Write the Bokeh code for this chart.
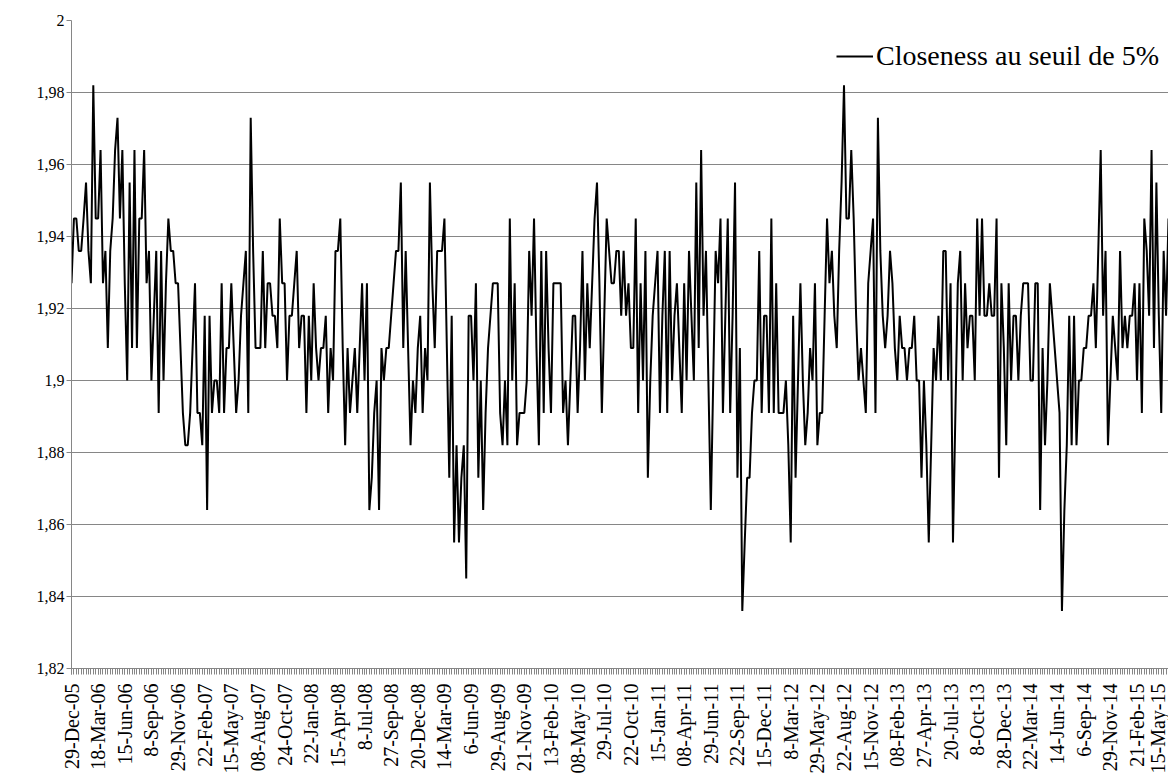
import math
from bokeh.plotting import figure
from bokeh.models import Range1d, FixedTicker, Legend, LegendItem, ColumnDataSource
from bokeh.embed import file_html
from bokeh.resources import INLINE

closeness = [
    1.927, 1.945, 1.945, 1.936, 1.936, 1.945, 1.955, 1.936, 1.927, 1.982,
    1.945, 1.945, 1.964, 1.927, 1.936, 1.909, 1.936, 1.945, 1.964, 1.973,
    1.945, 1.964, 1.927, 1.900, 1.955, 1.909, 1.964, 1.909, 1.945, 1.945,
    1.964, 1.927, 1.936, 1.900, 1.918, 1.936, 1.891, 1.936, 1.900, 1.927,
    1.945, 1.936, 1.936, 1.927, 1.927, 1.909, 1.891, 1.882, 1.882, 1.891,
    1.909, 1.927, 1.891, 1.891, 1.882, 1.918, 1.864, 1.918, 1.891, 1.900,
    1.900, 1.891, 1.927, 1.891, 1.909, 1.909, 1.927, 1.909, 1.891, 1.900,
    1.918, 1.927, 1.936, 1.891, 1.973, 1.936, 1.909, 1.909, 1.909, 1.936,
    1.909, 1.927, 1.927, 1.918, 1.918, 1.909, 1.945, 1.927, 1.927, 1.900,
    1.918, 1.918, 1.927, 1.936, 1.909, 1.918, 1.918, 1.891, 1.918, 1.900,
    1.927, 1.909, 1.900, 1.909, 1.909, 1.918, 1.891, 1.909, 1.900, 1.936,
    1.936, 1.945, 1.909, 1.882, 1.909, 1.891, 1.900, 1.909, 1.891, 1.909,
    1.927, 1.900, 1.927, 1.864, 1.873, 1.891, 1.900, 1.864, 1.909, 1.900,
    1.909, 1.909, 1.918, 1.927, 1.936, 1.936, 1.955, 1.909, 1.936, 1.909,
    1.882, 1.900, 1.891, 1.909, 1.918, 1.891, 1.909, 1.900, 1.955, 1.927,
    1.909, 1.936, 1.936, 1.936, 1.945, 1.909, 1.873, 1.918, 1.855, 1.882,
    1.855, 1.873, 1.882, 1.845, 1.918, 1.918, 1.900, 1.927, 1.873, 1.900,
    1.864, 1.891, 1.909, 1.918, 1.927, 1.927, 1.927, 1.891, 1.882, 1.900,
    1.882, 1.945, 1.900, 1.927, 1.882, 1.891, 1.891, 1.891, 1.900, 1.936,
    1.918, 1.945, 1.909, 1.882, 1.936, 1.891, 1.936, 1.909, 1.891, 1.927,
    1.927, 1.927, 1.927, 1.891, 1.900, 1.882, 1.900, 1.918, 1.918, 1.891,
    1.909, 1.936, 1.900, 1.927, 1.909, 1.927, 1.945, 1.955, 1.927, 1.891,
    1.918, 1.945, 1.936, 1.927, 1.927, 1.936, 1.936, 1.918, 1.936, 1.918,
    1.927, 1.909, 1.909, 1.945, 1.891, 1.927, 1.900, 1.936, 1.873, 1.900,
    1.918, 1.927, 1.936, 1.891, 1.918, 1.936, 1.891, 1.936, 1.900, 1.918,
    1.927, 1.909, 1.891, 1.927, 1.900, 1.936, 1.918, 1.900, 1.955, 1.909,
    1.964, 1.918, 1.936, 1.900, 1.864, 1.900, 1.936, 1.927, 1.945, 1.891,
    1.918, 1.945, 1.891, 1.918, 1.955, 1.873, 1.909, 1.836, 1.855, 1.873,
    1.873, 1.891, 1.900, 1.900, 1.936, 1.891, 1.918, 1.918, 1.891, 1.945,
    1.891, 1.927, 1.891, 1.891, 1.891, 1.900, 1.882, 1.855, 1.918, 1.873,
    1.900, 1.927, 1.900, 1.882, 1.891, 1.909, 1.900, 1.927, 1.882, 1.891,
    1.891, 1.918, 1.945, 1.927, 1.936, 1.918, 1.909, 1.936, 1.955, 1.982,
    1.945, 1.945, 1.964, 1.945, 1.918, 1.900, 1.909, 1.900, 1.891, 1.927,
    1.936, 1.945, 1.891, 1.973, 1.936, 1.918, 1.909, 1.918, 1.936, 1.927,
    1.909, 1.900, 1.918, 1.909, 1.909, 1.900, 1.909, 1.909, 1.918, 1.900,
    1.900, 1.873, 1.900, 1.882, 1.855, 1.882, 1.909, 1.900, 1.918, 1.900,
    1.936, 1.936, 1.900, 1.927, 1.855, 1.891, 1.927, 1.936, 1.900, 1.927,
    1.909, 1.918, 1.918, 1.900, 1.945, 1.918, 1.945, 1.918, 1.918, 1.927,
    1.918, 1.918, 1.945, 1.873, 1.927, 1.909, 1.882, 1.927, 1.900, 1.918,
    1.918, 1.900, 1.918, 1.927, 1.927, 1.927, 1.900, 1.900, 1.927, 1.927,
    1.864, 1.909, 1.882, 1.900, 1.927, 1.918, 1.909, 1.900, 1.891, 1.836,
    1.864, 1.882, 1.918, 1.882, 1.918, 1.882, 1.900, 1.900, 1.909, 1.909,
    1.918, 1.918, 1.927, 1.909, 1.936, 1.964, 1.918, 1.936, 1.882, 1.900,
    1.918, 1.909, 1.900, 1.936, 1.909, 1.918, 1.909, 1.918, 1.918, 1.927,
    1.900, 1.927, 1.891, 1.945, 1.936, 1.918, 1.964, 1.909, 1.955, 1.918,
    1.891, 1.936, 1.918, 1.945,
]

# Category labels shown every 11 observations
date_labels = [
    "29-Dec-05", "18-Mar-06", "15-Jun-06", "8-Sep-06", "29-Nov-06", "22-Feb-07",
    "15-May-07", "08-Aug-07", "24-Oct-07", "22-Jan-08", "15-Apr-08", "8-Jul-08",
    "27-Sep-08", "20-Dec-08", "14-Mar-09", "6-Jun-09", "29-Aug-09", "21-Nov-09",
    "13-Feb-10", "08-May-10", "29-Jul-10", "22-Oct-10", "15-Jan-11", "08-Apr-11",
    "29-Jun-11", "22-Sep-11", "15-Dec-11", "8-Mar-12", "29-May-12", "22-Aug-12",
    "15-Nov-12", "08-Feb-13", "27-Apr-13", "20-Jul-13", "8-Oct-13", "28-Dec-13",
    "22-Mar-14", "14-Jun-14", "6-Sep-14", "29-Nov-14", "21-Feb-15", "15-May-15",
]
label_step = 11

y_ticks = [1.82, 1.84, 1.86, 1.88, 1.90, 1.92, 1.94, 1.96, 1.98, 2.00]
y_tick_text = ["1,82", "1,84", "1,86", "1,88", "1,9", "1,92", "1,94", "1,96", "1,98", "2"]

FONT = "Liberation Serif"
GRAY = "#868686"

idx = list(range(len(closeness)))
src = ColumnDataSource(data=dict(x=idx, y=closeness))

p = figure(width=1168, height=776, output_backend="svg", toolbar_location=None,
           x_range=Range1d(0, len(closeness) - 1), y_range=Range1d(1.82, 2.0),
           min_border_left=71, min_border_right=0, min_border_top=20,
           min_border_bottom=106)
p.outline_line_color = None
p.background_fill_color = "white"

r = p.line("x", "y", source=src, line_color="black", line_width=2)

major = [i * label_step for i in range(len(date_labels))]
p.xaxis.ticker = FixedTicker(ticks=major, minor_ticks=idx)
p.xaxis.major_label_overrides = {m: lab for m, lab in zip(major, date_labels)}
p.xaxis.major_label_orientation = math.pi / 2
p.xaxis.major_tick_in = 0
p.xaxis.major_tick_out = 6
p.xaxis.minor_tick_in = 0
p.xaxis.minor_tick_out = 6
p.xaxis.major_tick_line_color = GRAY
p.xaxis.minor_tick_line_color = GRAY
p.xaxis.axis_line_color = GRAY
p.xaxis.major_label_standoff = 9
p.xaxis.major_label_text_font = FONT
p.xaxis.major_label_text_font_size = "20px"
p.xaxis.major_label_text_color = "black"

p.yaxis.ticker = FixedTicker(ticks=y_ticks)
p.yaxis.major_label_overrides = {t: s for t, s in zip(y_ticks, y_tick_text)}
p.yaxis.major_tick_in = 0
p.yaxis.major_tick_out = 5
p.yaxis.minor_tick_line_color = None
p.yaxis.major_tick_line_color = GRAY
p.yaxis.axis_line_color = GRAY
p.yaxis.major_label_standoff = 2
p.yaxis.major_label_text_font = FONT
p.yaxis.major_label_text_font_size = "16px"
p.yaxis.major_label_text_color = "black"

p.xgrid.visible = False
p.ygrid.ticker = FixedTicker(ticks=y_ticks)
p.ygrid.grid_line_color = GRAY
p.ygrid.grid_line_width = 1

legend = Legend(items=[LegendItem(label="Closeness au seuil de 5%", renderers=[r])],
                location=(765, 596), border_line_color=None, background_fill_alpha=0,
                padding=0, margin=0, glyph_width=37, glyph_height=20, label_height=20,
                label_standoff=3, label_text_font=FONT, label_text_font_size="28px",
                label_text_color="black")
p.add_layout(legend)

open("out.html", "w").write(file_html(p, INLINE))
